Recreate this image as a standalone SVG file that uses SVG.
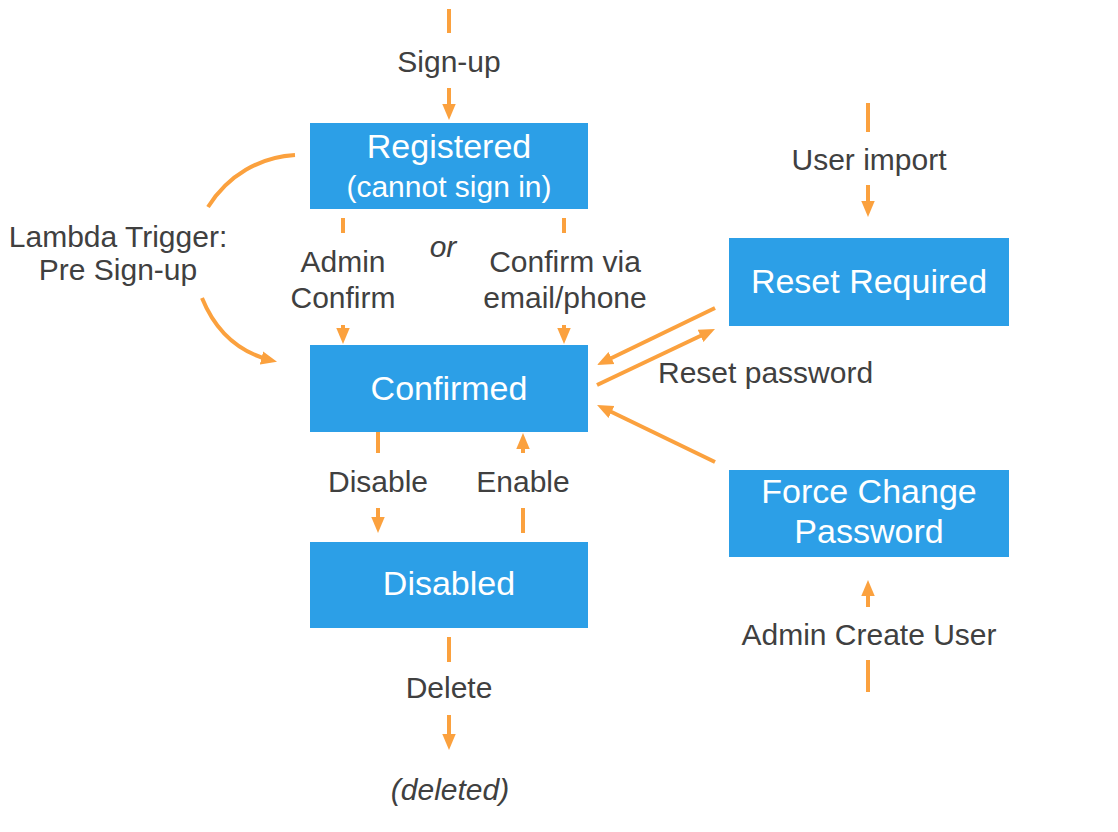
<svg xmlns="http://www.w3.org/2000/svg" width="1118" height="832" viewBox="0 0 1118 832">
<defs>
<marker id="ah" viewBox="0 0 10 10" refX="6" refY="5" markerWidth="16" markerHeight="16" markerUnits="userSpaceOnUse" orient="auto">
<path d="M0,0.8 L10,5 L0,9.2 z" fill="#FBA13E"/>
</marker>
</defs>
<style>
.box{fill:#2C9FE7}
.t{font-family:"Liberation Sans",Arial,sans-serif;font-size:34px;fill:#ffffff;text-anchor:middle}
.lb{font-family:"Liberation Sans",Arial,sans-serif;font-size:30px;fill:#404040;text-anchor:middle}
.it{font-style:italic}
.c{stroke:#FBA13E;stroke-width:4;fill:none}
.a{marker-end:url(#ah)}
</style>
<rect width="1118" height="832" fill="#ffffff"/>
<g id="connectors">
<line class="c" x1="449" y1="9" x2="449" y2="33"/>
<line class="c a" x1="449" y1="88" x2="449" y2="113.6"/>
<line class="c" x1="343" y1="218" x2="343" y2="233"/>
<line class="c a" x1="343" y1="325" x2="343" y2="337.6"/>
<line class="c" x1="564" y1="218" x2="564" y2="233"/>
<line class="c a" x1="564" y1="325" x2="564" y2="337.6"/>
<line class="c" x1="378" y1="432" x2="378" y2="453"/>
<line class="c a" x1="378" y1="508" x2="378" y2="526.6"/>
<line class="c" x1="523" y1="508" x2="523" y2="533"/>
<line class="c a" x1="523" y1="453" x2="523" y2="439.4"/>
<line class="c" x1="449" y1="637" x2="449" y2="662"/>
<line class="c a" x1="449" y1="715" x2="449" y2="743.6"/>
<line class="c" x1="868" y1="103" x2="868" y2="132"/>
<line class="c a" x1="868" y1="185" x2="868" y2="210.6"/>
<line class="c a" x1="868" y1="607" x2="868" y2="586.4"/>
<line class="c" x1="868" y1="660" x2="868" y2="692"/>
<line class="c a" x1="715" y1="308" x2="602.8" y2="362.2"/>
<line class="c a" x1="597" y1="385" x2="709.2" y2="331.7"/>
<line class="c a" x1="715" y1="462" x2="602.8" y2="407.8"/>
<path class="c" d="M295,155 C260,157 228,175 208,207"/>
<path class="c a" d="M202,298 C215,330 238,352 270.8,360.3"/>
</g>
<g id="labels">
<text class="lb" x="449" y="72">Sign-up</text>
<text class="lb" x="343" y="272">Admin</text>
<text class="lb" x="343" y="308">Confirm</text>
<text class="lb it" x="443" y="257">or</text>
<text class="lb" x="565" y="272">Confirm via</text>
<text class="lb" x="565" y="308">email/phone</text>
<text class="lb" x="118" y="247">Lambda Trigger:</text>
<text class="lb" x="118" y="280">Pre Sign-up</text>
<text class="lb" x="869" y="170">User import</text>
<text class="lb" x="658" y="383" style="text-anchor:start">Reset password</text>
<text class="lb" x="378" y="492">Disable</text>
<text class="lb" x="523" y="492">Enable</text>
<text class="lb" x="449" y="698">Delete</text>
<text class="lb it" x="450" y="800">(deleted)</text>
<text class="lb" x="869" y="645">Admin Create User</text>
</g>
<g id="registered">
<rect class="box" x="310" y="123" width="278" height="86"/>
<text class="t" x="449" y="158">Registered</text>
<text class="t" x="449" y="197" style="font-size:30px">(cannot sign in)</text>
</g>
<g id="confirmed">
<rect class="box" x="310" y="345" width="278" height="87"/>
<text class="t" x="449" y="400">Confirmed</text>
</g>
<g id="disabled">
<rect class="box" x="310" y="542" width="278" height="86"/>
<text class="t" x="449" y="595">Disabled</text>
</g>
<g id="reset-required">
<rect class="box" x="729" y="238" width="280" height="88"/>
<text class="t" x="869" y="293">Reset Required</text>
</g>
<g id="force-change-password">
<rect class="box" x="729" y="470" width="280" height="87"/>
<text class="t" x="869" y="503">Force Change</text>
<text class="t" x="869" y="543">Password</text>
</g>
</svg>
